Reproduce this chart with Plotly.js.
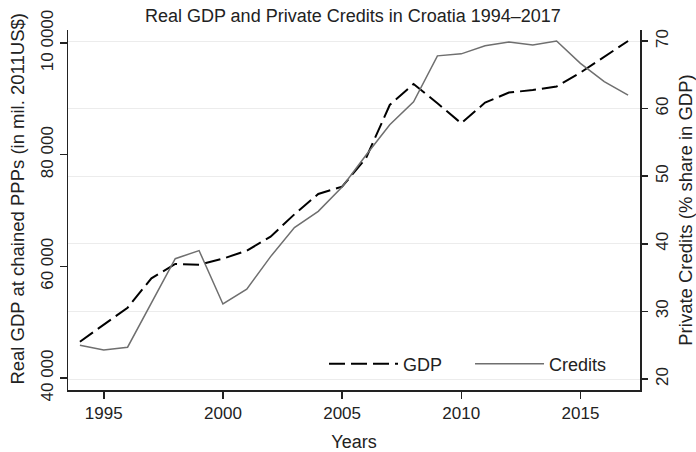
<!DOCTYPE html>
<html>
<head>
<meta charset="utf-8">
<script src="https://cdn.plot.ly/plotly-3.0.1.min.js"></script>
<style>
  html, body { margin: 0; padding: 0; background: #ffffff; }
  #chart { width: 696px; height: 452px; }
</style>
</head>
<body>
<div id="chart"></div>
<script>
// Annual series, Croatia 1994-2017
const years = [1994, 1995, 1996, 1997, 1998, 1999, 2000, 2001, 2002, 2003, 2004, 2005,
               2006, 2007, 2008, 2009, 2010, 2011, 2012, 2013, 2014, 2015, 2016, 2017];

// Real GDP at chained PPPs, millions of 2011 US$
const gdp = [46500, 49490, 52590, 57860, 60420, 60290, 61370, 62800, 65310, 69320, 72960, 74270,
             79350, 88900, 92660, 89200, 85620, 89330, 91120, 91580, 92200, 94690, 97550, 100360];

// Private credits, % share in GDP
const credits = [25.0, 24.3, 24.7, 31.3, 37.8, 39.0, 31.1, 33.3, 38.1, 42.4, 44.8, 48.4,
                 53.1, 57.6, 61.0, 67.8, 68.1, 69.3, 69.85, 69.4, 70.0, 66.7, 64.0, 62.0];

// Axis ticks
const yearTicks = [1995, 2000, 2005, 2010, 2015];
const gdpTickVals = [40000, 60000, 80000, 100000];
const gdpTickText = ['40 000', '60 000', '80 000', '10 0000'];
const creditTicks = [20, 30, 40, 50, 60, 70];

const FONT = 'Liberation Sans, Arial, Helvetica, sans-serif';
const INK = '#222222';

const traces = [
  {
    x: years, y: gdp, name: 'GDP', type: 'scatter', mode: 'lines',
    yaxis: 'y',
    line: { color: '#000000', width: 2, dash: '16px,6px' }
  },
  {
    x: years, y: credits, name: 'Credits', type: 'scatter', mode: 'lines',
    yaxis: 'y2',
    line: { color: '#6f6f6f', width: 1.5 }
  }
];

const axisCommon = {
  showline: true, linecolor: INK, linewidth: 1.5,
  ticks: 'outside', tickcolor: INK, tickwidth: 1.5,
  zeroline: false,
  tickfont: { family: FONT, size: 17, color: INK }
};

const layout = {
  width: 696, height: 452,
  margin: { l: 68, r: 56, t: 30, b: 62, pad: 0 },
  paper_bgcolor: '#ffffff', plot_bgcolor: '#ffffff',
  font: { family: FONT, color: INK, size: 17 },
  title: {
    text: 'Real GDP and Private Credits in Croatia 1994–2017',
    font: { family: FONT, size: 18, color: INK },
    xref: 'container', x: 0.507, xanchor: 'center',
    yref: 'container', y: 0.966, yanchor: 'middle'
  },
  xaxis: Object.assign({}, axisCommon, {
    range: [1993.5, 2017.5],
    tickmode: 'array', tickvals: yearTicks,
    ticklen: 7, showgrid: false,
    title: { text: 'Years', font: { family: FONT, size: 18, color: INK }, standoff: 14 }
  }),
  yaxis: Object.assign({}, axisCommon, {
    range: [37851, 102328],
    tickmode: 'array', tickvals: gdpTickVals, ticktext: gdpTickText,
    tickangle: -90, ticklen: 7, showgrid: false
  }),
  yaxis2: Object.assign({}, axisCommon, {
    overlaying: 'y', side: 'right',
    range: [18.373, 71.627],
    tickmode: 'array', tickvals: creditTicks,
    tickangle: -90, ticklen: 6,
    showgrid: true, gridcolor: '#ececec', gridwidth: 1,
    title: { text: 'Private Credits (% share in GDP)', font: { family: FONT, size: 18.5, color: INK }, standoff: 10 }
  }),
  // left axis title, set slightly above the plot's vertical centre
  annotations: [{
    text: 'Real GDP at chained PPPs (in mil. 2011US$)',
    xref: 'paper', yref: 'paper', x: -0.0883, y: 0.533,
    xanchor: 'center', yanchor: 'middle', textangle: -90, showarrow: false,
    font: { family: FONT, size: 18.5, color: INK }
  }],
  showlegend: true,
  legend: {
    orientation: 'h', x: 0.4476, xanchor: 'left', y: 0.0722, yanchor: 'middle',
    itemwidth: 69, entrywidth: 62, entrywidthmode: 'pixels',
    bgcolor: 'rgba(0,0,0,0)', borderwidth: 0,
    font: { family: FONT, size: 18, color: INK }
  }
};

Plotly.newPlot('chart', traces, layout, { staticPlot: true, displayModeBar: false });
</script>
</body>
</html>
